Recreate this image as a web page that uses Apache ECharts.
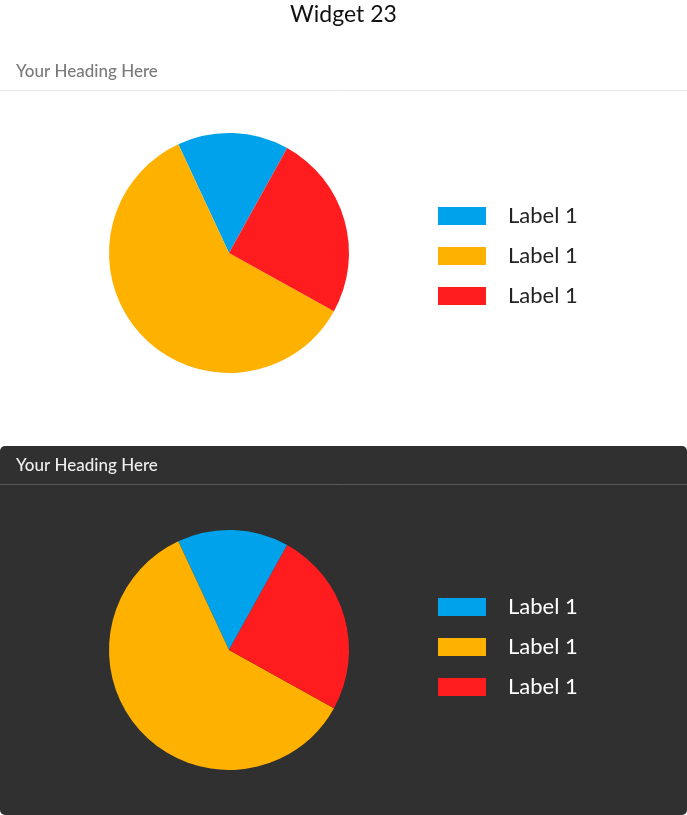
<!DOCTYPE html>
<html><head><meta charset="utf-8">
<script src="https://cdn.jsdelivr.net/npm/echarts@6/dist/echarts.min.js"></script>
<style>html,body{margin:0;padding:0;background:#fff;}#c{width:687px;height:815px;}</style>
</head><body><div id="c"></div>
<script>
const categories = ['Label 1', 'Label 1 ', 'Label 1  '];
const values = [15, 60, 25];
const colors = ['#00a2ec', '#ffb100', '#ff1c1f'];
const chartTitle = 'Widget 23';
const heading = 'Your Heading Here';

const chart = echarts.init(document.getElementById('c'));
const pieData = categories.map((n, i) => ({ name: n, value: values[i], itemStyle: { color: colors[i] } }));
const font = 'Lato, "Open Sans", sans-serif';
function pie(cy) {
  return {
    type: 'pie', radius: 120, center: [229, cy], clockwise: false, startAngle: 61,
    label: { show: false }, labelLine: { show: false }, silent: true,
    itemStyle: { borderWidth: 0 }, data: pieData
  };
}
function legend(top, color) {
  return {
    orient: 'vertical', left: 438, top: top, padding: 0, itemWidth: 48, itemHeight: 18, itemGap: 18,
    icon: 'rect', selectedMode: false, data: categories,
    textStyle: { fontSize: 22, color: color, fontFamily: font, padding: [0, 0, 0, 17] },
    formatter: n => n.trim()
  };
}
chart.setOption({
  animation: false,
  graphic: [
    { type: 'rect', shape: { x: 0, y: 446, width: 687, height: 369, r: 5 }, style: { fill: '#303030' }, z: -10 },
    { type: 'line', shape: { x1: 0, y1: 90.5, x2: 687, y2: 90.5 }, style: { stroke: '#e8e8e8', lineWidth: 1 } },
    { type: 'line', shape: { x1: 0, y1: 484.5, x2: 687, y2: 484.5 }, style: { stroke: '#5a5a5a', lineWidth: 1 } }
  ],
  title: [
    { text: chartTitle, left: 'center', top: 3, padding: 0, textStyle: { fontSize: 23, fontWeight: 'normal', color: '#111', fontFamily: font } },
    { text: heading, left: 16, top: 63, padding: 0, textStyle: { fontSize: 17, fontWeight: 500, color: '#7a7a7a', fontFamily: font } },
    { text: heading, left: 16, top: 457, padding: 0, textStyle: { fontSize: 17, fontWeight: 500, color: '#eeeeee', fontFamily: font } }
  ],
  legend: [legend(205, '#222'), legend(596, '#ffffff')],
  series: [pie(253), pie(650)]
});
</script></body></html>
